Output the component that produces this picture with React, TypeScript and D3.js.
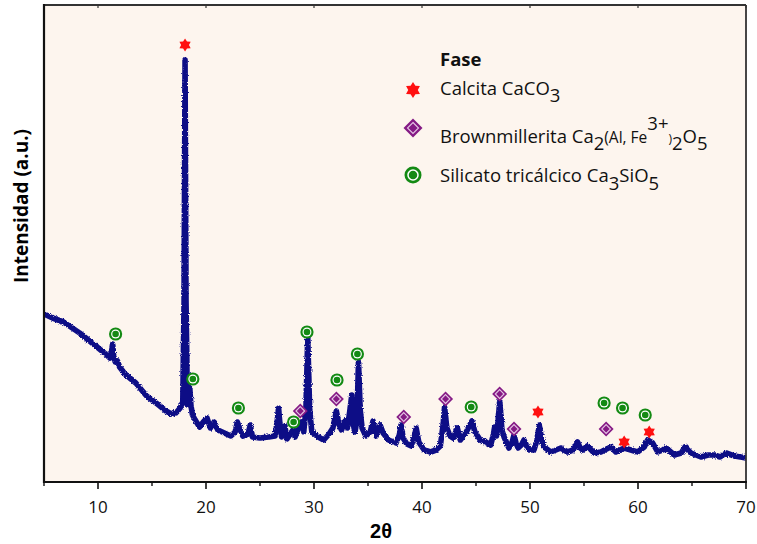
import React from "react";
import * as d3 from "d3";

// Diffractogram: 2θ (degrees) vs. intensity (a.u.)
const twoTheta = [
  5.0, 5.8, 6.8, 8.3, 9.8, 10.7, 11.1, 11.25, 11.35, 11.45, 11.6, 11.8, 12.0, 12.5, 13.5, 14.5,
  15.5, 16.3, 16.8, 17.3, 17.6, 17.85, 17.97, 18.06, 18.15, 18.28, 18.4, 18.5, 18.6, 18.75, 19.0,
  19.4, 19.75, 20.1, 20.4, 20.75, 21.1, 21.7, 22.3, 22.7, 22.9, 23.1, 23.4, 23.9, 24.1, 24.3, 25.0,
  25.8, 26.4, 26.6, 26.72, 26.85, 27.0, 27.3, 27.5, 27.8, 28.05, 28.25, 28.55, 28.85, 29.05, 29.25,
  29.42, 29.6, 29.8, 30.4, 30.9, 31.4, 31.75, 32.07, 32.3, 32.55, 32.88, 33.1, 33.3, 33.5, 33.65,
  33.8, 33.97, 34.12, 34.28, 34.45, 34.8, 35.2, 35.47, 35.75, 36.12, 36.4, 36.9, 37.6, 37.9, 38.07,
  38.25, 38.6, 39.0, 39.3, 39.46, 39.7, 40.2, 40.8, 41.3, 41.7, 41.95, 42.09, 42.3, 42.6, 42.9,
  43.27, 43.55, 44.1, 44.62, 44.9, 45.4, 45.9, 46.36, 46.6, 46.73, 46.9, 47.05, 47.2, 47.4, 47.6,
  48.05, 48.35, 48.52, 48.7, 48.9, 49.2, 49.44, 49.7, 49.91, 50.37, 50.65, 50.87, 51.05, 51.3,
  51.92, 52.4, 52.85, 53.47, 54.0, 54.4, 54.65, 54.86, 55.32, 55.94, 56.56, 57.1, 57.49, 57.95,
  58.72, 59.34, 59.96, 60.58, 60.89, 61.36, 61.82, 62.3, 62.6, 63.36, 64.0, 64.35, 64.9, 65.83,
  66.5, 67.07, 67.6, 68.15, 68.92, 69.5, 70.0,
];
const intensity = [
  168, 164, 160, 149, 136, 128, 124, 130, 138, 126, 120, 121, 115, 108, 99, 86,
  78, 71, 68, 70, 74, 80, 182, 422, 182, 77, 82, 94, 77, 67, 62,
  55, 60, 64, 54, 60, 52, 49, 46, 50, 60, 54, 46, 48, 57, 45, 44,
  45, 46, 62, 74, 57, 45, 56, 43, 48, 52, 45, 54, 60, 50, 72,
  145, 72, 50, 45, 42, 48, 54, 71, 58, 52, 62, 54, 70, 87, 57,
  50, 62, 120, 72, 54, 46, 50, 61, 46, 57, 49, 42, 39, 47, 57,
  44, 38, 36, 46, 54, 40, 32, 30, 32, 36, 57, 75, 54, 46, 44,
  54, 42, 50, 61, 50, 42, 40, 37, 47, 55, 46, 62, 81, 52, 45,
  34, 40, 47, 39, 34, 37, 42, 36, 32, 32, 42, 57, 44, 35,
  30, 32, 34, 30, 32, 40, 34, 32, 36, 29, 30, 33, 35, 30,
  34, 32, 30, 35, 42, 39, 30, 32, 34, 27, 29, 35, 29, 25,
  27, 27, 25, 29, 26, 25, 24,
];

// Phase markers placed above the assigned reflections
const calcitaTheta = [18.06, 50.74, 58.72, 61.04];
const calcitaLevel = [437, 70, 40, 50];
const brownTheta = [28.73, 32.07, 38.31, 42.18, 47.19, 48.52, 57.05];
const brownLevel = [71, 83, 65, 83, 88, 53, 53];
const silicatoTheta = [11.63, 18.78, 23.0, 28.11, 29.35, 32.13, 34.02, 44.56, 56.86, 58.57, 60.67];
const silicatoLevel = [148, 103, 74, 60, 150, 102, 128, 75, 79, 74, 67];

const xMajorTicks = [10, 20, 30, 40, 50, 60, 70];
const xMinorTicks = [5, 15, 25, 35, 45, 55, 65];

const W = 757;
const H = 544;
const plot = { left: 44, right: 746, top: 5, bottom: 482 };

const TRACE = "#0a0a86";
const RED = "#ff1010";
const PURPLE = "#851a85";
const GREEN = "#138a13";
const FONT = "'Open Sans', 'Noto Sans', sans-serif";

function starPath(outer: number): string {
  const inner = outer * 0.6;
  const pts: [number, number][] = d3.range(12).map((i) => [
    (i * Math.PI) / 6,
    i % 2 === 0 ? outer : inner,
  ]);
  return (d3.lineRadial().curve(d3.curveLinearClosed)(pts) as string) || "";
}

function diamondPath(r: number): string {
  return `M0,${-r}L${r},0L0,${r}L${-r},0Z`;
}

function Star({ x, y, s = 6.5 }: { x: number; y: number; s?: number }) {
  return <path d={starPath(s)} transform={`translate(${x},${y})`} fill={RED} />;
}

function Diamond({ x, y, s = 7.5 }: { x: number; y: number; s?: number }) {
  return (
    <g transform={`translate(${x},${y})`}>
      <path d={diamondPath(s)} fill={PURPLE} />
      <path d={diamondPath(s * 0.58)} fill="none" stroke="#e4c4e4" strokeWidth={1.1} />
    </g>
  );
}

function Ring({ x, y, s = 6.6 }: { x: number; y: number; s?: number }) {
  return (
    <g transform={`translate(${x},${y})`}>
      <circle r={s} fill={GREEN} />
      <circle r={s * 0.68} fill="#ffffff" />
      <circle r={s * 0.5} fill={GREEN} />
    </g>
  );
}

export default function App() {
  const x = d3.scaleLinear().domain([5, 70]).range([plot.left, plot.right]);
  const y = d3.scaleLinear().domain([0, 477]).range([plot.bottom, plot.top]);

  const points: [number, number][] = twoTheta.map((t, i) => [t, intensity[i]]);
  const line = d3
    .line<[number, number]>()
    .x((d) => x(d[0]))
    .y((d) => y(d[1]));

  const sub = 7;

  return (
    <svg
      width={W}
      height={H}
      viewBox={`0 0 ${W} ${H}`}
      style={{ position: "absolute", left: 0, top: 0, background: "#ffffff" }}
      fontFamily={FONT}
    >
      <defs>
        {/* grainy edge of the measured counts */}
        <filter id="counts-noise" x="-2%" y="-5%" width="104%" height="110%">
          <feTurbulence type="fractalNoise" baseFrequency="0.9" numOctaves={2} seed={3} result="n" />
          <feDisplacementMap in="SourceGraphic" in2="n" scale={3} xChannelSelector="R" yChannelSelector="G" />
        </filter>
        <clipPath id="plot-area">
          <rect
            x={plot.left}
            y={plot.top}
            width={plot.right - plot.left}
            height={plot.bottom - plot.top}
          />
        </clipPath>
      </defs>

      <rect
        x={plot.left}
        y={plot.top}
        width={plot.right - plot.left}
        height={plot.bottom - plot.top}
        fill="#fdf5ee"
      />

      <g clipPath="url(#plot-area)">
        <path
          d={line(points) || ""}
          fill="none"
          stroke={TRACE}
          strokeWidth={5.6}
          strokeLinejoin="round"
          strokeLinecap="round"
          filter="url(#counts-noise)"
        />
      </g>

      {calcitaTheta.map((t, i) => (
        <Star key={`c${i}`} x={x(t)} y={y(calcitaLevel[i])} />
      ))}
      {brownTheta.map((t, i) => (
        <Diamond key={`b${i}`} x={x(t)} y={y(brownLevel[i])} />
      ))}
      {silicatoTheta.map((t, i) => (
        <Ring key={`s${i}`} x={x(t)} y={y(silicatoLevel[i])} />
      ))}

      {/* frame */}
      <line x1={plot.left} x2={plot.right} y1={plot.top} y2={plot.top} stroke="#333" strokeWidth={1.8} />
      <line x1={plot.right} x2={plot.right} y1={plot.top} y2={plot.bottom} stroke="#333" strokeWidth={1.8} />
      <line x1={plot.left} x2={plot.left} y1={plot.top - 0.9} y2={plot.bottom + 1} stroke="#111" strokeWidth={2.2} />
      <line x1={plot.left - 1} x2={plot.right + 0.9} y1={plot.bottom} y2={plot.bottom} stroke="#111" strokeWidth={2.2} />

      {/* x axis ticks */}
      {xMajorTicks.map((t) => (
        <g key={`M${t}`}>
          <line x1={x(t)} x2={x(t)} y1={plot.bottom} y2={plot.bottom + 7} stroke="#111" strokeWidth={1.6} />
          <line x1={x(t)} x2={x(t)} y1={plot.top} y2={plot.top + 3} stroke="#333" strokeWidth={1.2} />
          <text x={x(t)} y={plot.bottom + 31} textAnchor="middle" fontSize={17} fill="#111">
            {t}
          </text>
        </g>
      ))}
      {xMinorTicks.map((t) => (
        <line key={`m${t}`} x1={x(t)} x2={x(t)} y1={plot.bottom} y2={plot.bottom + 4} stroke="#111" strokeWidth={1.4} />
      ))}

      <text
        x={381}
        y={538}
        textAnchor="middle"
        fontSize={20}
        fontWeight="bold"
        fontFamily="'Liberation Sans', Arial, sans-serif"
        fill="#000"
      >
        2θ
      </text>
      <text
        transform="translate(28,206) rotate(-90)"
        textAnchor="middle"
        fontSize={19}
        fontWeight="bold"
        fill="#000"
      >
        Intensidad (a.u.)
      </text>

      {/* legend */}
      <g fontSize={18.5} fill="#111">
        <text x={440} y={66} fontWeight="bold">
          Fase
        </text>

        <Star x={413} y={90} s={8} />
        <text x={440} y={95}>
          Calcita CaCO<tspan dy={sub}>3</tspan>
        </text>

        <Diamond x={413} y={128} s={9.5} />
        <text x={440} y={143}>
          Brownmillerita Ca<tspan dy={sub}>2</tspan>
          <tspan dy={-sub} fontSize={15.5}>
            (Al, Fe
          </tspan>
          <tspan dy={-13}>3+</tspan>
          <tspan dy={13} fontSize={12}>
            )
          </tspan>
          <tspan dy={sub}>2</tspan>
          <tspan dy={-sub}>O</tspan>
          <tspan dy={sub}>5</tspan>
        </text>

        <Ring x={413} y={175} s={8.5} />
        <text x={440} y={182}>
          Silicato tricálcico Ca<tspan dy={sub + 1}>3</tspan>
          <tspan dy={-sub - 1}>SiO</tspan>
          <tspan dy={sub + 1}>5</tspan>
        </text>
      </g>
    </svg>
  );
}
